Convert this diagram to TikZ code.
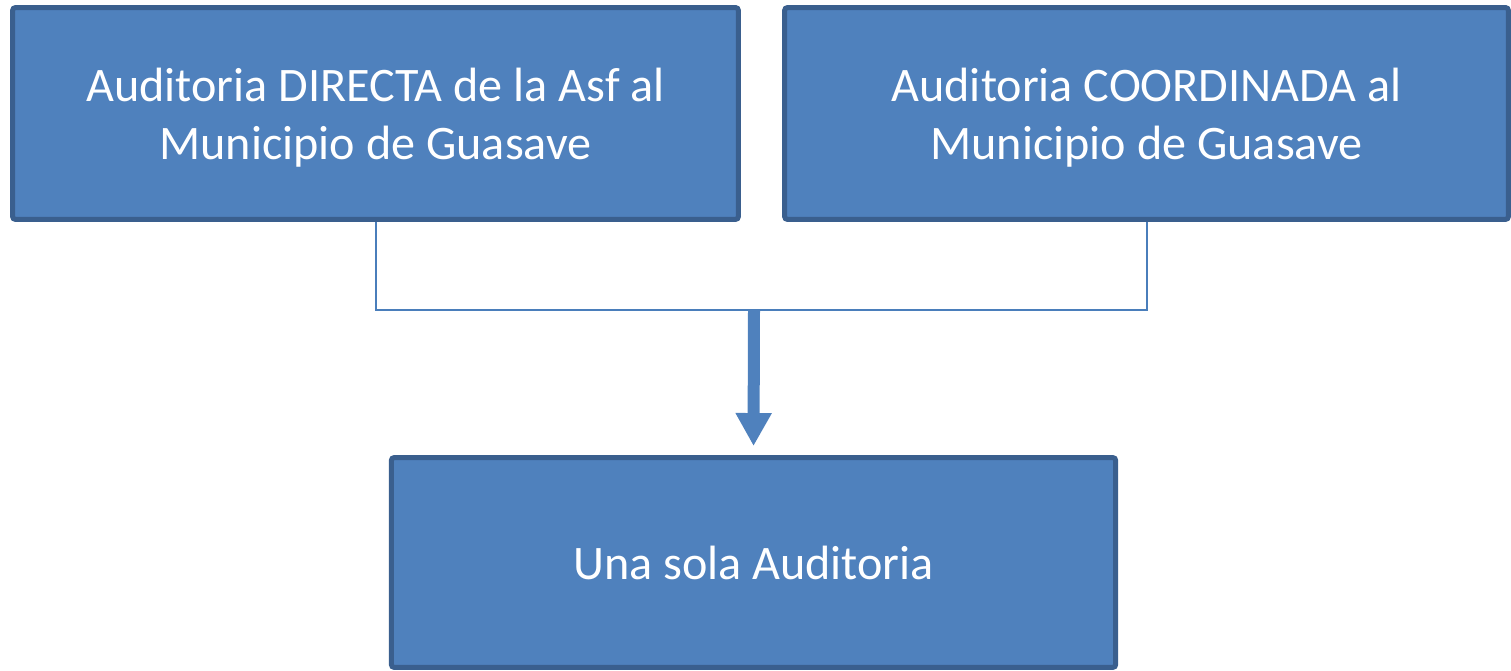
\documentclass[tikz,border=0pt]{standalone}
\usepackage{fontspec}
\setmainfont{Carlito}
\usetikzlibrary{arrows.meta}
\definecolor{boxfill}{HTML}{4F81BD}
\definecolor{boxline}{HTML}{3A5F8E}
\definecolor{linkline}{HTML}{4A7EBB}
\begin{document}
\begin{tikzpicture}[x=0.02cm,y=-0.02cm,
	box/.style={draw=boxline,fill=boxfill,line width=0.1cm,rounded corners=0.06cm,
		text=white,align=center,inner sep=0pt,text depth=0pt,font=\fontsize{27.4}{33}\selectfont},
	link/.style={draw=linkline,line width=0.04cm},
	flow/.style={draw=boxfill,line width=0.24cm,-{Triangle[width=0.68cm,length=0.66cm]},shorten >=0.18cm}]
	% Coordinates are in pixels of the original picture.
	\useasboundingbox (0,0) rectangle (1511,671);
	\node(directa) [box,minimum width=14.52cm,minimum height=4.24cm] at (375.5,113.5)
		{Auditoria DIRECTA de la Asf al\\Municipio de Guasave};
	\node(coordinada) [box,minimum width=14.48cm,minimum height=4.24cm] at (1146.5,113.5)
		{Auditoria COORDINADA al\\Municipio de Guasave};
	\node(sola) [box,minimum width=14.49cm,minimum height=4.2cm] at (753.5,562.5)
		{Una sola Auditoria};
	\coordinate(join) at (754,310);
	\draw[link] (directa.south) |- (join) -| (coordinada.south);
	\draw[flow] (join) -- (sola.north);
\end{tikzpicture}
\end{document}
